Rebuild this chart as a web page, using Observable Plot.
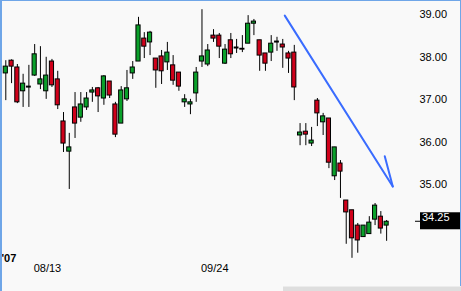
<!DOCTYPE html>
<html>
<head>
<meta charset="utf-8">
<script src="https://cdn.jsdelivr.net/npm/d3@7"></script>
<script src="https://cdn.jsdelivr.net/npm/@observablehq/plot@0.6"></script>
<style>
  html, body { margin: 0; padding: 0; background: #f9f9f9; }
  #wrap { position: relative; width: 461px; height: 291px; overflow: hidden; }
  #wrap svg { display: block; }
  #frameLine { position: absolute; left: 0; top: 0; width: 461px; height: 291px; box-sizing: border-box;
    border-left: 2px solid #6fa6e8; border-top: 1px solid #6fa6e8; border-right: 1px solid #6fa6e8; pointer-events: none; }
  #scroll { position: absolute; left: 283px; top: 286px; width: 178px; height: 5px; background: #dedede; border-top: 1px solid #ececec; }
</style>
</head>
<body>
<div id="wrap"><div id="frameLine"></div><div id="scroll"></div></div>
<script>
// Daily OHLC, 67 trading days (Aug 6 – Nov 7, 2007)
const opens  = [37.62,37.92,37.76,37.20,37.31,37.57,37.36,37.20,37.90,37.48,36.49,35.78,36.82,36.58,36.82,37.17,37.27,37.03,37.43,36.89,36.44,37.01,37.62,37.90,38.44,38.35,37.97,38.02,37.88,37.81,37.64,36.94,36.89,37.15,37.90,37.83,38.51,38.51,37.85,38.40,38.23,38.20,38.32,38.79,38.40,38.09,38.11,38.37,38.30,38.09,38.11,36.16,36.25,35.97,36.98,36.47,36.56,35.20,35.50,34.63,34.40,34.04,33.77,33.84,34.18,34.25,34.04];
const highs  = [37.92,37.94,37.83,37.60,37.81,38.30,38.25,38.00,37.95,37.67,36.70,36.21,37.17,37.17,37.17,37.29,37.29,37.57,37.43,36.94,37.31,37.69,37.90,38.94,38.58,38.61,37.97,38.16,38.35,38.04,37.64,37.12,37.01,37.76,39.12,38.30,38.65,38.56,38.30,38.56,38.42,38.51,38.98,38.89,38.40,38.09,38.51,38.47,38.42,38.14,38.28,36.44,36.44,36.35,37.03,36.68,36.56,35.88,35.57,34.63,34.40,34.09,34.04,34.25,34.56,34.37,34.16];
const lows   = [36.98,37.38,36.91,36.82,36.82,37.55,37.24,37.01,37.29,36.77,35.76,34.89,36.09,36.47,36.75,36.94,36.70,36.87,37.03,36.11,36.44,36.96,37.48,37.90,37.97,38.04,37.27,37.36,37.69,37.34,37.20,36.82,36.65,36.94,37.76,37.78,38.35,37.97,37.83,37.97,38.09,38.11,38.32,38.51,37.67,37.67,37.90,38.14,37.74,37.62,36.98,35.92,35.92,35.90,36.37,36.16,35.38,35.10,34.68,33.60,33.27,33.39,33.77,33.84,34.04,33.84,33.67];
const closes = [37.78,37.78,36.94,37.38,37.31,38.07,37.48,37.57,37.34,36.87,35.97,35.88,36.44,36.89,37.03,37.22,37.08,37.55,37.10,36.18,37.22,37.27,37.76,38.75,38.25,38.58,37.69,37.67,38.11,37.45,37.31,37.01,36.94,37.64,38.02,38.16,38.44,38.25,38.18,38.07,38.23,38.18,38.79,38.84,38.04,37.85,38.32,38.37,38.23,37.97,37.29,36.23,36.18,36.04,36.68,36.61,35.52,35.88,35.31,34.35,33.74,33.69,34.04,34.11,34.51,33.97,34.13];

// Axis labels
const yTicks = [35, 36, 37, 38, 39];
const xTickIndex = [5, 34];
const xTickLabels = ["08/13", "09/24"];
const yearLabel = "'07";
const lastPriceLabel = "34.25";

// Hand-drawn trend arrow (in trading-day index / price units)
const trendX = [48.35, 67.07];
const trendY = [38.98, 34.96];
const barbX = [65.68, 67.07];
const barbY = [35.67, 34.96];

const upColor = "#0aa02a";
const downColor = "#d0001a";

const rows = opens.map((o, i) => ({i, open: o, high: highs[i], low: lows[i], close: closes[i]}));
const bodies = rows.filter(d => d.open !== d.close);
const dojis = rows.filter(d => d.open === d.close);
const trend = trendX.map((x, k) => ({x, y: trendY[k]}));
const barb = barbX.map((x, k) => ({x, y: barbY[k]}));
const tickLabelOf = new Map(xTickIndex.map((v, k) => [v, xTickLabels[k]]));
const lastClose = closes[closes.length - 1];

function lastPriceMark(index, scales, values, dims) {
  const y = scales.y(lastClose);
  const x0 = dims.width - dims.marginRight;
  const g = d3.create("svg:g");
  g.append("line").attr("x1", x0 + 5).attr("x2", x0 + 10).attr("y1", y).attr("y2", y).attr("stroke", "black");
  g.append("rect").attr("x", x0 + 10).attr("y", y - 9).attr("width", dims.width - x0 - 10).attr("height", 17).attr("fill", "black");
  g.append("text").attr("x", x0 + 12).attr("y", y - 4.5).attr("dy", "0.35em").attr("fill", "white")
    .attr("text-anchor", "start").attr("font-size", 11).text(lastPriceLabel);
  return g.node();
}

const chart = Plot.plot({
  width: 461,
  height: 291,
  marginLeft: 0,
  marginRight: 51,
  marginTop: 0,
  marginBottom: 41,
  style: {background: "#f9f9f9", fontFamily: "Liberation Sans, Arial, sans-serif", fontSize: "11px", color: "black"},
  x: {type: "linear", domain: [-0.92, 70.14]},
  y: {domain: [33.454, 39.336]},
  marks: [
    Plot.axisY({anchor: "right", ticks: yTicks, tickFormat: d => d.toFixed(2), tickSize: 0, tickPadding: 9, label: null, fontSize: 11}),
    Plot.axisX({ticks: xTickIndex, tickFormat: d => tickLabelOf.get(d), tickSize: 0, tickPadding: 14, textAnchor: "start", dx: -1, label: null, fontSize: 11}),
    Plot.text([yearLabel], {frameAnchor: "bottom-left", text: d => d, dx: 1, dy: 8, textAnchor: "start", lineAnchor: "middle", fontWeight: "bold", fontSize: 11}),
    Plot.ruleX(rows, {x: "i", y1: "low", y2: "high", stroke: "black", strokeWidth: 1}),
    Plot.rect(bodies, {x1: d => d.i - 0.36, x2: d => d.i + 0.36, y1: "open", y2: "close",
      fill: d => d.close > d.open ? upColor : downColor, stroke: "black", strokeWidth: 1}),
    Plot.ruleY(dojis, {y: "close", x1: d => d.i - 0.42, x2: d => d.i + 0.42, stroke: "black", strokeWidth: 2}),
    Plot.line(trend, {x: "x", y: "y", stroke: "#3a6cff", strokeWidth: 2}),
    Plot.line(barb, {x: "x", y: "y", stroke: "#3a6cff", strokeWidth: 2}),
    lastPriceMark
  ]
});
document.getElementById("wrap").prepend(chart);
</script>
</body>
</html>
